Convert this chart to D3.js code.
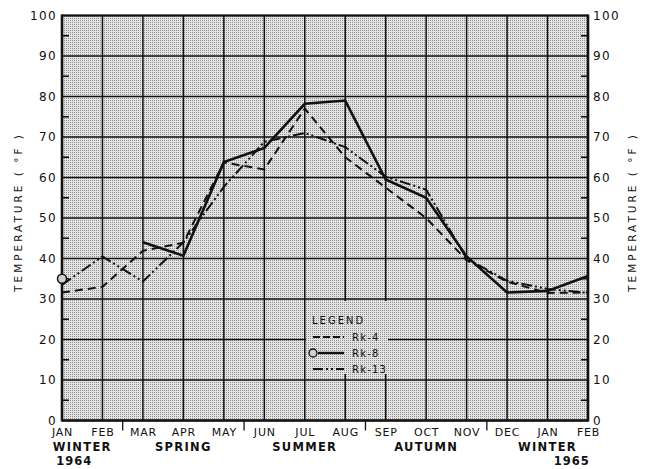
<!DOCTYPE html>
<html><head><meta charset="utf-8">
<script src="https://cdn.jsdelivr.net/npm/d3@7"></script>
<style>body{margin:0;background:#fff}svg{display:block}text{font-family:"DejaVu Sans",sans-serif;fill:#111}</style>
</head><body>
<svg id="c" width="648" height="469"></svg>
<script>
const months = ["JAN","FEB","MAR","APR","MAY","JUN","JUL","AUG","SEP","OCT","NOV","DEC","JAN","FEB"];
const seasons = ["WINTER","SPRING","SUMMER","AUTUMN","WINTER"];
const seasonPos = [0.5, 3, 6, 9, 12];
const seasonBreaks = [1.5, 4.5, 7.5, 10.5];
const years = ["1964","1965"];
const yearPos = [0.3, 12.6];
const yTicks = [0,10,20,30,40,50,60,70,80,90,100];
const yMinor = [5,15,25,35,45,55,65,75,85,95];
const rk4  = [31.6, 33.0, 41.9, 43.9, 63.7, 62.0, 77.0, 65.0, 57.5, 50.0, 39.6, 34.3, 31.5, 31.6];
const rk8  = [35.0, null, 44.0, 40.7, 63.8, 67.3, 78.2, 79.0, 59.5, 55.0, 40.5, 31.6, 32.0, 35.7];
const rk13 = [33.5, 40.5, 34.3, 44.0, 57.7, 68.8, 71.0, 67.5, 60.2, 57.0, 40.0, 34.5, 32.5, 31.5];
const legendNames = ["Rk-4","Rk-8","Rk-13"];

const svg = d3.select("#c");
const L = 62, R = 588, T = 15.5, B = 420.5;
const x = d3.scaleLinear().domain([0, months.length - 1]).range([L, R]);
const y = d3.scaleLinear().domain([0, 100]).range([B, T]);

const defs = svg.append("defs");
const pat = defs.append("pattern").attr("id","st").attr("width",2).attr("height",2).attr("patternUnits","userSpaceOnUse");
pat.append("rect").attr("width",2).attr("height",2).attr("fill","#e4e4e4");
pat.append("rect").attr("width",1).attr("height",1).attr("fill","#8f8f8f");
svg.append("rect").attr("x",L).attr("y",T).attr("width",R-L).attr("height",B-T).attr("fill","url(#st)");

const g = svg.append("g");
g.selectAll(".hg").data(yTicks).join("line")
  .attr("x1",L).attr("x2",R).attr("y1",d=>y(d)).attr("y2",d=>y(d))
  .attr("stroke","#111").attr("stroke-width",1.5);
g.selectAll(".vg").data(d3.range(months.length)).join("line")
  .attr("x1",d=>x(d)).attr("x2",d=>x(d)).attr("y1",T).attr("y2",B)
  .attr("stroke","#111").attr("stroke-width",1.5);

const lg = {x0:305, y0:300, x1:387, y1:374};
svg.append("rect").attr("x",lg.x0+1).attr("y",lg.y0+1).attr("width",lg.x1-lg.x0).attr("height",lg.y1-lg.y0-1).attr("fill","url(#st)");

svg.append("line").attr("x1",L).attr("x2",L).attr("y1",T-1).attr("y2",B+1).attr("stroke","#111").attr("stroke-width",2.6);
svg.append("line").attr("x1",R).attr("x2",R).attr("y1",T-1).attr("y2",B+1).attr("stroke","#111").attr("stroke-width",2.6);
svg.append("line").attr("x1",L).attr("x2",R).attr("y1",T).attr("y2",T).attr("stroke","#111").attr("stroke-width",2.2);
svg.append("line").attr("x1",L).attr("x2",R).attr("y1",B).attr("y2",B).attr("stroke","#111").attr("stroke-width",2.6);

g.selectAll(".ml").data(yMinor).join("line").attr("x1",L).attr("x2",L+7).attr("y1",d=>y(d)).attr("y2",d=>y(d)).attr("stroke","#111").attr("stroke-width",1.6);
g.selectAll(".mr").data(yMinor).join("line").attr("x1",R-7).attr("x2",R).attr("y1",d=>y(d)).attr("y2",d=>y(d)).attr("stroke","#111").attr("stroke-width",1.6);
g.selectAll(".sb").data(seasonBreaks).join("line").attr("x1",d=>x(d)).attr("x2",d=>x(d)).attr("y1",B).attr("y2",B+10).attr("stroke","#111").attr("stroke-width",1.3);

const axL = d3.axisLeft(y).tickValues(yTicks).tickSize(0).tickPadding(5);
const axR = d3.axisRight(y).tickValues(yTicks).tickSize(0).tickPadding(5);
const gl = svg.append("g").attr("transform",`translate(${L},0)`).call(axL);
const gr = svg.append("g").attr("transform",`translate(${R},0)`).call(axR);
[gl,gr].forEach(a=>{a.select(".domain").remove();
  a.selectAll("text").attr("font-size",12).attr("font-family","DejaVu Sans").attr("fill","#111").attr("letter-spacing",1.4);});

const axB = d3.axisBottom(x).tickValues(d3.range(months.length)).tickFormat(i=>months[i]).tickSize(0).tickPadding(8);
const gb = svg.append("g").attr("transform",`translate(0,${B})`).call(axB);
gb.select(".domain").remove();
gb.selectAll("text").attr("font-size",11).attr("font-family","DejaVu Sans").attr("fill","#111").attr("letter-spacing",0.8);

svg.selectAll(".se").data(seasons).join("text").attr("x",(d,i)=>x(seasonPos[i])).attr("y",451)
  .attr("text-anchor","middle").attr("font-size",11.5).attr("font-weight","bold").attr("letter-spacing",1.3).text(d=>d);
svg.selectAll(".yr").data(years).join("text").attr("x",(d,i)=>x(yearPos[i])).attr("y",465)
  .attr("text-anchor","middle").attr("font-size",11.5).attr("font-weight","bold").attr("letter-spacing",1).text(d=>d);

[18, 632].forEach(cx=>{
  svg.append("text").attr("transform",`translate(${cx+4},${212}) rotate(-90)`).attr("text-anchor","middle")
    .attr("font-size",10.5).attr("letter-spacing",3).text("TEMPERATURE  ( °F )");
});

const line = d3.line().defined(d=>d!=null).x((d,i)=>x(i)).y(d=>y(d));
svg.append("path").datum(rk4).attr("d",line).attr("fill","none").attr("stroke","#111").attr("stroke-width",2).attr("stroke-dasharray","8,5");
svg.append("path").datum(rk13).attr("d",line).attr("fill","none").attr("stroke","#111").attr("stroke-width",2).attr("stroke-dasharray","11,3,2,3,2,3");
svg.append("path").datum(rk8).attr("d",line).attr("fill","none").attr("stroke","#111").attr("stroke-width",2.6);
svg.append("circle").attr("cx",x(0)).attr("cy",y(rk8[0])).attr("r",4.5).attr("fill","#d0d0d0").attr("stroke","#111").attr("stroke-width",1.5);

svg.append("text").attr("x",312).attr("y",324).attr("font-size",10).attr("letter-spacing",2).text("LEGEND");
const ly = [337, 353, 369];
const styles = [{dash:"7,3",w:2},{dash:null,w:2.4},{dash:"10,3,2,3,2,3",w:2}];
legendNames.forEach((n,i)=>{
  const x0 = i===1 ? 318 : 313;
  svg.append("line").attr("x1",x0).attr("x2",344).attr("y1",ly[i]).attr("y2",ly[i]).attr("stroke","#111")
    .attr("stroke-width",styles[i].w).attr("stroke-dasharray",styles[i].dash);
  svg.append("text").attr("x",352).attr("y",ly[i]+3.5).attr("font-size",10).attr("letter-spacing",1.2).text(n);
});
svg.append("circle").attr("cx",313).attr("cy",ly[1]).attr("r",4).attr("fill","#d0d0d0").attr("stroke","#111").attr("stroke-width",1.3);
</script>
</body></html>
